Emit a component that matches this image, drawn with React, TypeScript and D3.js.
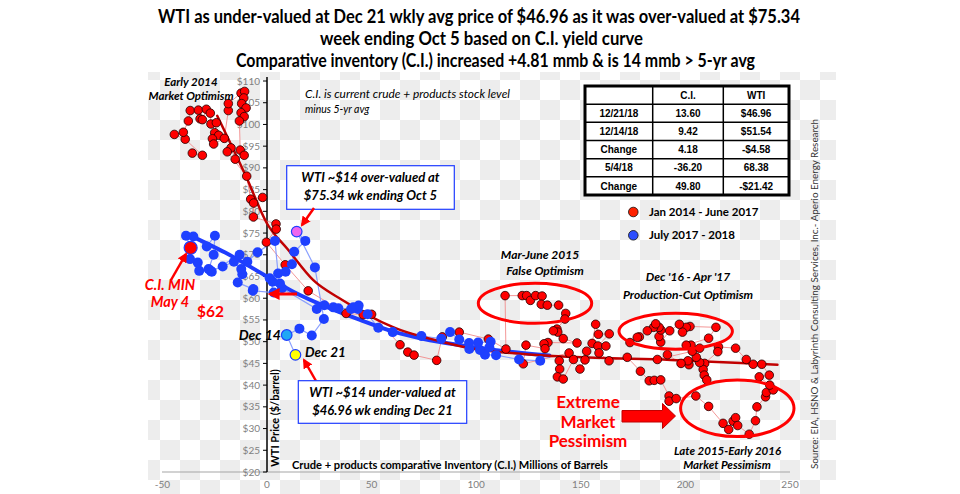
import React from 'react';
import * as d3 from 'd3';

const W = 960;
const H = 494;

const titleLines = [
  'WTI as under-valued at Dec 21 wkly avg price of $46.96 as it was over-valued at $75.34',
  'week ending Oct 5 based on C.I. yield curve',
  'Comparative inventory (C.I.) increased +4.81 mmb & is 14 mmb > 5-yr avg',
];

const xTicks = [-50, 0, 50, 100, 150, 200, 250];
const yTicks = [20, 25, 30, 35, 40, 45, 50, 55, 60, 65, 70, 75, 80, 85, 90, 95, 100, 105, 110];

// Jan 2014 - June 2017 (C.I., WTI)
const redPoints: [number, number][] = [
  [-35.7, 93.4], [-30.9, 92.9], [-39.1, 96.6], [-44.3, 97.7], [-40.0, 98.2], [-37.6, 100.8],
  [-36.7, 103.2], [-32.8, 103.3], [-32.0, 101.3], [-30.9, 101.1], [-29.0, 103.5], [-27.1, 102.6],
  [-26.8, 100.1], [-24.2, 100.4], [-25.0, 98.1], [-23.1, 97.5], [-26.1, 96.7], [-25.5, 95.5],
  [-20.4, 96.8], [-18.5, 103.2], [-18.5, 104.8], [-12.4, 107.2], [-10.7, 107.6], [-11.1, 106.1],
  [-12.1, 104.8], [-10.0, 103.8], [-12.4, 102.7], [-10.9, 101.8], [-13.2, 100.8], [-12.8, 94.1],
  [-10.9, 92.9], [-15.2, 92.0], [-17.2, 94.6], [-19.0, 93.7], [-9.7, 88.1], [-7.8, 82.8],
  [-2.1, 83.2], [-6.4, 81.9], [-6.5, 78.7], [4.3, 77.1], [4.4, 75.9], [-0.3, 72.9], [8.7, 67.7],
  [19.7, 61.7], [37.8, 56.5], [46.0, 56.2], [50.0, 56.3], [63.6, 49.3], [67.3, 47.6], [70.3, 46.9],
  [81.1, 45.7], [83.8, 51.1], [91.9, 52.2], [105.8, 50.6], [114.2, 48.3],
  [113.8, 60.6], [122.0, 60.6], [124.1, 60.6], [125.9, 59.5], [128.4, 60.6], [131.5, 60.5],
  [131.1, 58.6], [134.0, 58.4], [139.4, 58.4], [142.8, 56.5], [142.4, 55.2], [138.6, 52.9],
  [139.0, 52.2], [136.9, 52.5], [141.6, 50.7], [148.2, 49.7], [134.3, 49.8], [132.4, 49.5],
  [132.9, 48.4], [123.8, 49.2], [122.5, 44.9], [144.4, 47.4], [139.7, 45.6], [139.9, 43.7],
  [138.8, 41.9], [141.6, 41.4], [146.5, 45.9], [149.6, 43.7], [152.0, 45.8], [152.8, 47.8],
  [155.4, 49.6], [157.1, 54.0], [158.4, 51.7], [163.6, 51.8], [158.2, 49.0], [162.0, 49.0],
  [158.7, 47.4], [163.5, 45.6], [172.2, 46.4], [178.5, 43.2], [182.7, 41.0], [185.1, 41.1],
  [188.2, 41.2], [192.2, 37.5], [192.2, 36.3], [195.6, 36.9], [205.0, 37.5], [211.1, 35.1],
  [218.0, 31.2], [220.7, 29.8], [222.8, 31.7], [224.0, 32.5], [225.0, 30.7], [230.5, 28.7],
  [233.5, 31.8], [234.2, 35.0], [238.3, 37.3], [238.7, 38.3], [242.0, 38.9], [240.3, 40.0],
  [235.3, 41.9], [240.1, 42.3], [236.5, 44.8], [232.4, 44.8], [229.1, 45.9], [224.0, 48.5],
  [215.8, 48.8], [215.5, 47.7], [209.2, 45.0], [208.5, 43.6], [209.0, 42.3], [210.2, 41.2],
  [206.8, 45.2], [205.2, 46.4], [201.7, 44.7], [201.2, 45.6], [197.9, 45.0], [191.4, 47.0],
  [186.6, 45.9], [203.3, 47.8], [206.8, 48.5], [202.7, 49.2], [200.4, 49.2], [211.1, 50.8],
  [214.6, 53.3], [202.2, 53.5], [200.4, 53.3], [198.6, 52.2], [197.1, 54.0], [192.5, 52.5],
  [188.2, 49.9], [187.4, 51.2], [188.3, 52.7], [187.4, 53.3], [184.8, 53.3], [185.8, 54.1],
  [181.8, 52.5], [178.0, 51.1], [177.0, 51.0], [173.5, 49.8],
];

// July 2017 - 2018 (C.I., WTI)
const bluePoints: [number, number][] = [
  [130.6, 45.6], [120.5, 45.9], [109.5, 46.9], [104.2, 47.0], [101.8, 48.1], [96.7, 48.3],
  [106.3, 48.7], [106.9, 50.0], [100.9, 49.8], [96.6, 49.7], [91.9, 50.5], [87.5, 52.2],
  [83.3, 50.7], [73.8, 51.3], [60.1, 52.2], [53.2, 53.2], [48.1, 56.3], [43.4, 57.5],
  [43.8, 58.3], [41.3, 57.9], [40.2, 57.5], [34.1, 57.7], [31.7, 57.9], [27.4, 58.4],
  [23.8, 57.5], [7.2, 62.3], [6.2, 63.4], [2.7, 63.8], [1.3, 64.6], [3.2, 61.3], [-6.8, 61.7],
  [-6.5, 62.1], [-14.0, 63.6], [-11.8, 65.5], [-12.3, 66.7], [-15.8, 68.4], [-21.2, 67.3],
  [-26.9, 66.3], [-32.4, 66.3], [-33.1, 68.2], [-36.8, 69.0], [-36.5, 71.6], [-38.7, 74.4],
  [-35.2, 74.2], [-28.8, 71.9], [-24.9, 74.4], [-25.5, 70.0], [-27.9, 66.7], [-26.4, 66.1],
  [-13.1, 70.0], [-9.4, 68.4], [-4.5, 70.6], [3.8, 73.2], [5.3, 65.7], [8.9, 66.1],
  [11.9, 67.8], [13.0, 70.7], [18.3, 73.2], [14.2, 75.34], [22.9, 67.1], [27.2, 55.2],
  [21.4, 51.4], [15.5, 53.0], [9.42, 51.54], [13.6, 46.96],
];

const ciMin: [number, number] = [-36.5, 71.6];
const oct5: [number, number] = [14.2, 75.34];
const dec14: [number, number] = [9.42, 51.54];
const dec21: [number, number] = [13.6, 46.96];

const redTrend: [number, number][] = [
  [-23.8, 102], [-10, 88], [0, 77.2], [10, 71.2], [22, 64.2], [36, 59.6], [60, 53.4],
  [86, 49.7], [97, 48.5], [145, 46.5], [193, 45.8], [244, 44.7],
];
const blueTrend: [number, number][] = [
  [-39.2, 75.0], [-20, 70.5], [0, 65.0], [12.6, 61.5], [28.5, 58.0], [44.5, 55.0],
  [60.4, 52.3], [75, 50.6], [92.3, 49.2], [116.2, 47.7], [135, 46.8],
];

const tableRows = [
  ['', 'C.I.', 'WTI'],
  ['12/21/18', '13.60', '$46.96'],
  ['12/14/18', '9.42', '$51.54'],
  ['Change', '4.18', '-$4.58'],
  ['5/4/18', '-36.20', '68.38'],
  ['Change', '49.80', '-$21.42'],
];

const legendLabels = ['Jan 2014 - June 2017', 'July 2017 - 2018'];

const CAL = 'Lato, "Open Sans", sans-serif';

export default function App() {
  const x = d3.scaleLinear().domain([-50, 250]).range([162.4, 790]);
  const y = d3.scaleLinear().domain([20, 110]).range([472, 81]);
  const line = d3.line<[number, number]>().x((d) => x(d[0])).y((d) => y(d[1]));
  const smooth = d3
    .line<[number, number]>()
    .x((d) => x(d[0]))
    .y((d) => y(d[1]))
    .curve(d3.curveMonotoneX);

  const tX0 = 585, tX1 = 789, tY0 = 86, tY1 = 195;
  const colX = [tX0, 652.7, 723.3, tX1];
  const rowH = (tY1 - tY0) / tableRows.length;

  const annot = { fontFamily: CAL, fontWeight: 700, fontStyle: 'italic' as const };

  return (
    <svg
      width={W}
      height={H}
      style={{ position: 'absolute', left: 0, top: 0, background: '#fff' }}
      xmlns="http://www.w3.org/2000/svg"
    >
      <defs>
        <pattern id="chk" width={40} height={40} patternUnits="userSpaceOnUse">
          <rect width={40} height={40} fill="#ffffff" />
          <rect x={0} y={0} width={20} height={20} fill="#ededed" />
          <rect x={20} y={20} width={20} height={20} fill="#ededed" />
        </pattern>
        <marker id="ah" viewBox="0 0 10 10" refX={8} refY={5} markerWidth={4} markerHeight={4} orient="auto">
          <path d="M0,0 L10,5 L0,10 z" fill="#ff0000" />
        </marker>
      </defs>

      <rect x={148} y={72} width={688} height={422} fill="url(#chk)" />

      {/* title */}
      {titleLines.map((t, i) => {
        const spans = [[158, 800], [320, 643], [236, 755]][i];
        return (
          <text
            key={i}
            x={(spans[0] + spans[1]) / 2}
            y={23 + i * 22}
            textAnchor="middle"
            fontFamily={CAL}
            fontWeight={700}
            fontSize={18}
            textLength={spans[1] - spans[0]}
            lengthAdjust="spacingAndGlyphs"
            fill="#000"
          >
            {t}
          </text>
        );
      })}

      {/* x axis line */}
      <line x1={162} x2={790} y1={y(20)} y2={y(20)} stroke="#a6a6a6" strokeWidth={1.2} />
      {xTicks.map((t) => (
        <text key={t} x={x(t)} y={488} textAnchor="middle" fontFamily={CAL} fontSize={10} fill="#7f7f7f">
          {t}
        </text>
      ))}

      {/* y axis */}
      <line x1={x(0)} x2={x(0)} y1={77} y2={y(20)} stroke="#000" strokeWidth={1.5} />
      {yTicks.map((t) => (
        <g key={t}>
          <line x1={x(0) - 4} x2={x(0)} y1={y(t)} y2={y(t)} stroke="#000" strokeWidth={1} />
          <text x={260} y={y(t) + 3.5} textAnchor="end" fontFamily={CAL} fontSize={10} fill="#7f7f7f">
            {'$' + t}
          </text>
        </g>
      ))}

      <text
        transform={`translate(279,${418}) rotate(-90)`}
        textAnchor="middle"
        fontFamily={CAL}
        fontWeight={700}
        fontSize={11}
        fill="#000"
      >
        WTI Price ($/barrel)
      </text>
      <text
        x={292}
        y={469}
        fontFamily={CAL}
        fontWeight={700}
        fontSize={11}
        textLength={316}
        lengthAdjust="spacingAndGlyphs"
        fill="#000"
      >
        Crude + products  comparative Inventory (C.I.) Millions of Barrels
      </text>

      {/* connecting lines */}
      <path d={line(redPoints) || ''} fill="none" stroke="#f28c8c" strokeWidth={1} opacity={0.9} />
      <path d={line(bluePoints) || ''} fill="none" stroke="#7d96ff" strokeWidth={1.2} opacity={0.9} />

      {/* trend lines */}
      <path d={smooth(blueTrend) || ''} fill="none" stroke="#1f3cff" strokeWidth={4} strokeLinecap="round" />
      <path d={smooth(redTrend) || ''} fill="none" stroke="#c00000" strokeWidth={2.5} strokeLinecap="round" />

      {/* points */}
      {redPoints.map((d, i) => (
        <circle key={'r' + i} cx={x(d[0])} cy={y(d[1])} r={4.3} fill="#ff0000" stroke="#220000" strokeWidth={0.8} />
      ))}
      {bluePoints.map((d, i) => (
        <circle key={'b' + i} cx={x(d[0])} cy={y(d[1])} r={5} fill="#1e40ff" />
      ))}

      {/* special markers */}
      <circle cx={x(ciMin[0])} cy={y(ciMin[1])} r={6.5} fill="#ff0000" stroke="#1e40ff" strokeWidth={1.2} />
      <circle cx={x(oct5[0])} cy={y(oct5[1])} r={5.3} fill="#ee66ee" stroke="#1e40ff" strokeWidth={1.2} />
      <circle cx={x(dec14[0])} cy={y(dec14[1])} r={5.3} fill="#1fa8f4" stroke="#1e40ff" strokeWidth={1.2} />
      <circle cx={x(dec21[0])} cy={y(dec21[1])} r={5.3} fill="#ffff00" stroke="#1e40ff" strokeWidth={1.2} />

      {/* ellipses */}
      <ellipse cx={535} cy={303.3} rx={56.7} ry={20} fill="none" stroke="#ff0000" strokeWidth={3} />
      <ellipse cx={675.7} cy={331.3} rx={56.7} ry={18} fill="none" stroke="#ff0000" strokeWidth={3} />
      <ellipse cx={737.3} cy={408.3} rx={56.7} ry={28.3} fill="none" stroke="#ff0000" strokeWidth={3} />

      {/* annotations */}
      <text x={191} y={86} textAnchor="middle" {...annot} fontSize={11.5} fill="#000">Early 2014</text>
      <text x={191} y={100} textAnchor="middle" {...annot} fontSize={11.5} fill="#000">Market Optimism</text>

      <text x={305} y={98} fontFamily={CAL} fontStyle="italic" fontSize={10.5} textLength={205} lengthAdjust="spacingAndGlyphs" fill="#000">
        C.I. is current crude + products stock level
      </text>
      <text x={305} y={113} fontFamily={CAL} fontStyle="italic" fontSize={10.5} fill="#000">minus 5-yr avg</text>

      <rect x={286.7} y={165.7} width={167.6} height={43.6} fill="#fff" stroke="#1f3cff" strokeWidth={1.2} />
      <text x={370.5} y={182} textAnchor="middle" {...annot} fontSize={13} fill="#000">WTI ~$14 over-valued at</text>
      <text x={370.5} y={200} textAnchor="middle" {...annot} fontSize={13} fill="#000">$75.34 wk ending Oct 5</text>
      <line x1={314} y1={208} x2={302} y2={225} stroke="#ff0000" strokeWidth={2.5} markerEnd="url(#ah)" />

      <text x={170} y={290} textAnchor="middle" {...annot} fontSize={14.5} fill="#ff0000">C.I. MIN</text>
      <text x={170} y={307} textAnchor="middle" {...annot} fontSize={14.5} fill="#ff0000">May 4</text>
      <line x1={171} y1={280} x2={186} y2={254} stroke="#ff0000" strokeWidth={2.5} markerEnd="url(#ah)" />
      <text x={210.5} y={317} textAnchor="middle" fontFamily={CAL} fontWeight={700} fontSize={15.5} fill="#ff0000">$62</text>
      <line x1={297} y1={294} x2={270} y2={294} stroke="#ff0000" strokeWidth={3} markerEnd="url(#ah)" />

      <text x={281} y={340} textAnchor="end" {...annot} fontSize={14} fill="#000">Dec 14</text>
      <text x={305} y={357} {...annot} fontSize={13.5} fill="#000">Dec 21</text>
      <line x1={316} y1={381} x2={304} y2={360} stroke="#ff0000" strokeWidth={2.5} markerEnd="url(#ah)" />
      <rect x={298.3} y={380.7} width={168.4} height={42.6} fill="#fff" stroke="#1f3cff" strokeWidth={1.2} />
      <text x={382.5} y={397} textAnchor="middle" {...annot} fontSize={13} fill="#000">WTI ~$14 under-valued at</text>
      <text x={382.5} y={415} textAnchor="middle" {...annot} fontSize={13} fill="#000">$46.96 wk ending Dec 21</text>

      <text x={540} y={259} textAnchor="middle" {...annot} fontSize={12} fill="#000">Mar-June 2015</text>
      <text x={545} y={275} textAnchor="middle" {...annot} fontSize={12} fill="#000">False Optimism</text>

      <text x={688} y={281} textAnchor="middle" {...annot} fontSize={12} fill="#000">Dec '16 - Apr '17</text>
      <text x={688} y={299} textAnchor="middle" {...annot} fontSize={12} fill="#000">Production-Cut  Optimism</text>

      <text x={588} y={408} textAnchor="middle" fontFamily={CAL} fontWeight={700} fontSize={17} fill="#ff0000">Extreme</text>
      <text x={588} y={428} textAnchor="middle" fontFamily={CAL} fontWeight={700} fontSize={17} fill="#ff0000">Market</text>
      <text x={588} y={447} textAnchor="middle" fontFamily={CAL} fontWeight={700} fontSize={17} fill="#ff0000">Pessimism</text>
      <path
        d="M622,410.5 L662.5,410.5 L662.5,403.5 L675.5,416 L662.5,428.5 L662.5,422 L622,422 Z"
        fill="#ff0000"
        stroke="#c00000"
        strokeWidth={1}
      />

      <text x={727.5} y={455} textAnchor="middle" {...annot} fontSize={11.5} fill="#000">Late 2015-Early 2016</text>
      <text x={727} y={469} textAnchor="middle" {...annot} fontSize={11.5} fill="#000">Market Pessimism</text>

      {/* table */}
      <rect x={tX0} y={tY0} width={tX1 - tX0} height={tY1 - tY0} fill="#fff" />
      {tableRows.map((row, ri) => (
        <g key={'row' + ri}>
          {ri > 0 && (
            <line x1={tX0} x2={tX1} y1={tY0 + ri * rowH} y2={tY0 + ri * rowH} stroke="#000" strokeWidth={1.5} />
          )}
          {row.map((cell, ci) => (
            <text
              key={ci}
              x={(colX[ci] + colX[ci + 1]) / 2}
              y={tY0 + ri * rowH + rowH / 2 + 3.6}
              textAnchor="middle"
              fontFamily='"Liberation Sans", Arial, sans-serif'
              fontWeight={700}
              fontSize={10}
              fill="#000"
            >
              {cell}
            </text>
          ))}
        </g>
      ))}
      {[1, 2].map((ci) => (
        <line key={'cl' + ci} x1={colX[ci]} x2={colX[ci]} y1={tY0} y2={tY1} stroke="#000" strokeWidth={1.5} />
      ))}
      <rect x={tX0} y={tY0} width={tX1 - tX0} height={tY1 - tY0} fill="none" stroke="#000" strokeWidth={3} />

      {/* legend */}
      {legendLabels.map((l, i) => (
        <g key={l}>
          <circle
            cx={633.3}
            cy={212 + i * 23.3}
            r={4.8}
            fill={i === 0 ? '#ff2200' : '#2b4dff'}
            stroke="#111"
            strokeWidth={0.8}
          />
          <text x={649} y={216 + i * 23.3} fontFamily={CAL} fontWeight={700} fontSize={11.5} fill="#000">
            {l}
          </text>
        </g>
      ))}

      {/* source */}
      <text
        transform="translate(818,294) rotate(-90)"
        textAnchor="middle"
        fontFamily={CAL}
        fontSize={9}
        textLength={350}
        lengthAdjust="spacingAndGlyphs"
        fill="#333"
      >
        Source:  EIA, HSNO &amp; Labyrinth Consulting  Services, Inc.- Aperio Energy Research
      </text>
    </svg>
  );
}
